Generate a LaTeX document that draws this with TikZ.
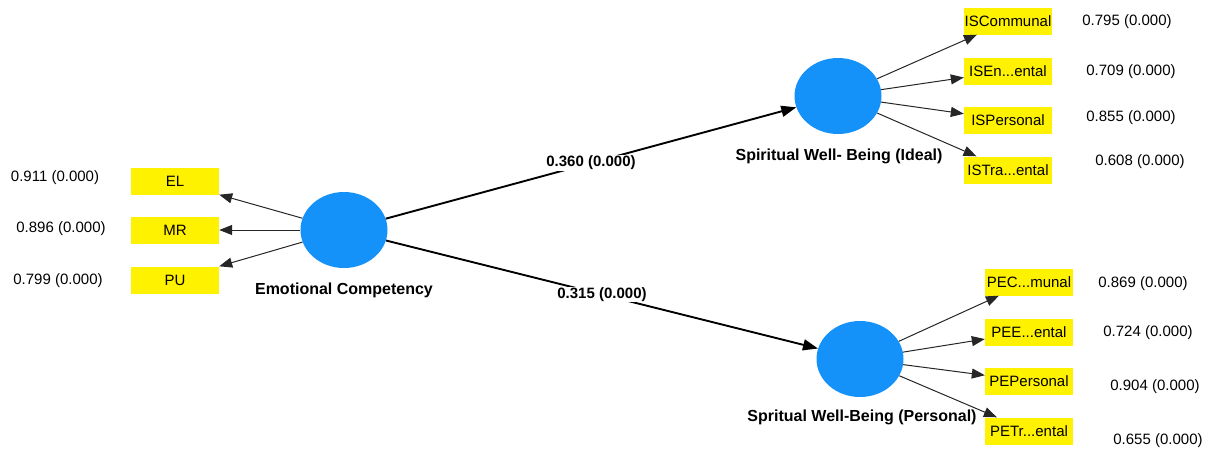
\documentclass[tikz,border=0pt]{standalone}
\usepackage{fontspec}
\setmainfont{Liberation Sans}
\usetikzlibrary{shapes.geometric,arrows.meta}
\definecolor{lvblue}{RGB}{20,146,250}
\tikzset{
 latent/.style={ellipse, fill=lvblue, minimum width=87pt, minimum height=76pt, inner sep=0pt},
 indicator/.style={fill=yellow, minimum width=88pt, minimum height=27pt, inner sep=1pt, font=\fontsize{15}{17}\selectfont},
 loadtxt/.style={font=\fontsize{15}{17}\selectfont},
 lvtxt/.style={font=\bfseries\fontsize{16}{18}\selectfont},
 coef/.style={fill=white, inner sep=1pt, font=\bfseries\fontsize{15}{17}\selectfont},
 loadarrow/.style={-{Triangle[length=13pt,width=10pt]}, draw=black!85, line width=1pt},
 patharrow/.style={-{Triangle[length=15pt,width=11pt]}, line width=1.9pt}
}

\begin{document}
\begin{tikzpicture}[x=1pt,y=-1pt]
\useasboundingbox (0,0) rectangle (1211,448);

% latent variables
\node [latent] (ec) at (344,230) {};
\node [latent] (swbi) at (838,96) {};
\node [latent] (swbp) at (860,359) {};
\node [lvtxt] (eclab) at (344,290) {Emotional Competency};
\node [lvtxt] (swbilab) at (839,156) {Spiritual Well- Being (Ideal)};
\node [lvtxt] (swbplab) at (862,417) {Spritual Well-Being (Personal)};

% indicators
\node [indicator] (el) at (175,181) {EL};
\node [indicator] (mr) at (175,230) {MR};
\node [indicator] (pu) at (175,280) {PU};
\node [indicator] (isc) at (1008,21) {ISCommunal};
\node [indicator] (ise) at (1008,71) {ISEn...ental};
\node [indicator] (isp) at (1008,120) {ISPersonal};
\node [indicator] (ist) at (1008,170) {ISTra...ental};
\node [indicator] (pec) at (1029,282) {PEC...munal};
\node [indicator] (pee) at (1029,332) {PEE...ental};
\node [indicator] (pep) at (1029,381) {PEPersonal};
\node [indicator] (pet) at (1029,431) {PETr...ental};

% loadings
\node [loadtxt] (lel) at (55,178) {0.911 (0.000)};
\node [loadtxt] (lmr) at (61,229) {0.896 (0.000)};
\node [loadtxt] (lpu) at (58,281) {0.799 (0.000)};
\node [loadtxt] (lisc) at (1127,22) {0.795 (0.000)};
\node [loadtxt] (lise) at (1131,72) {0.709 (0.000)};
\node [loadtxt] (lisp) at (1131,118) {0.855 (0.000)};
\node [loadtxt] (list) at (1140,162) {0.608 (0.000)};
\node [loadtxt] (lpec) at (1143,284) {0.869 (0.000)};
\node [loadtxt] (lpee) at (1148,333) {0.724 (0.000)};
\node [loadtxt] (lpep) at (1155,387) {0.904 (0.000)};
\node [loadtxt] (lpet) at (1158,441) {0.655 (0.000)};

\draw [loadarrow] (ec) -- (el.south east);
\draw [loadarrow] (ec) -- (mr);
\draw [loadarrow] (ec) -- (pu.north east);
\draw [loadarrow] (swbi) -- (isc);
\draw [loadarrow] (swbi) -- (ise);
\draw [loadarrow] (swbi) -- (isp);
\draw [loadarrow] (swbi) -- (ist);
\draw [loadarrow] (swbp) -- (pec);
\draw [loadarrow] (swbp) -- (pee);
\draw [loadarrow] (swbp) -- (pep);
\draw [loadarrow] (swbp) -- (pet);

% path coefficients
\draw [patharrow] (ec) -- node [coef] (c1) {0.360 (0.000)} (swbi);
\draw [patharrow] (ec) -- node [coef] (c2) {0.315 (0.000)} (swbp);

\end{tikzpicture}
\end{document}
